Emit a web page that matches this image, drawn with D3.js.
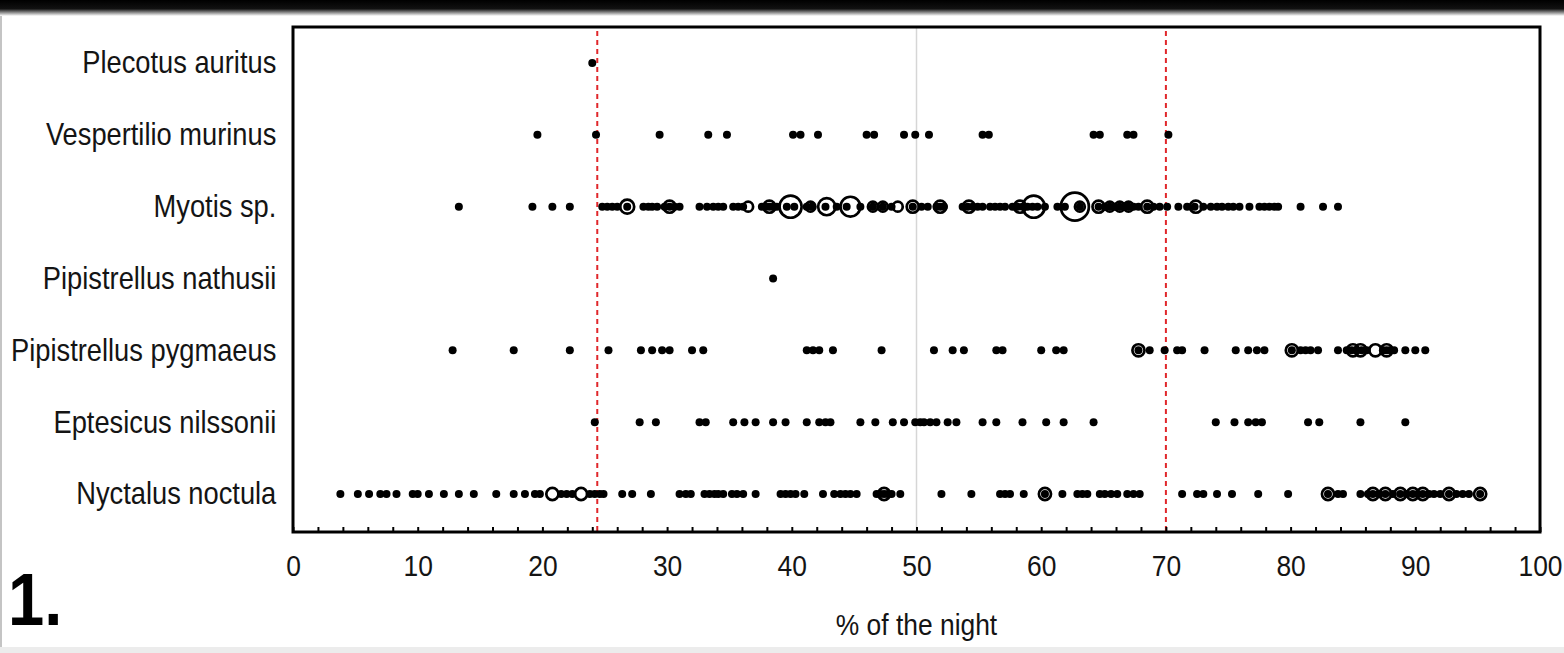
<!DOCTYPE html>
<html>
<head>
<meta charset="utf-8">
<script src="https://cdn.jsdelivr.net/npm/d3@7"></script>
<style>
  html, body { margin: 0; padding: 0; background: #fff; overflow: hidden; }
  svg { display: block; font-family: "Liberation Sans", Arial, sans-serif; }
</style>
</head>
<body>
<svg id="chart" width="1564" height="653"></svg>
<script>
const categories = ['Plecotus auritus', 'Vespertilio murinus', 'Myotis sp.', 'Pipistrellus nathusii',
  'Pipistrellus pygmaeus', 'Eptesicus nilssonii', 'Nyctalus noctula'];

const majorTicks = [0, 10, 20, 30, 40, 50, 60, 70, 80, 90, 100];
const minorTicks = d3.range(0, 101, 2);
const thresholds = [24.4, 70.0];
const midline = [50];

// single observations (small filled dots)
const plecotusDots = [24.0];
const vespertilioDots = [19.6, 24.3, 29.4, 33.3, 34.8, 40.1, 40.7, 42.1, 46.0, 46.6, 49.0, 49.9, 51.0,
  55.3, 55.8, 64.2, 64.7, 66.9, 67.4, 70.2];
const myotisDots = [13.3, 19.2, 20.8, 22.2, 24.8, 25.2, 25.6, 26.0, 26.8, 28.1, 28.5, 28.8, 29.2, 29.8,
  30.2, 30.6, 31.0, 32.6, 33.2, 33.7, 34.1, 34.5, 35.3, 35.7, 36.1, 37.6, 37.9, 38.2, 38.5, 38.8, 39.6,
  40.2, 41.2, 41.6, 42.7, 43.6, 44.4, 45.5, 46.5, 47.3, 48.0, 49.7, 50.4, 50.9, 51.6, 51.9, 52.2, 53.7,
  54.1, 54.5, 54.9, 55.3, 55.9, 56.3, 56.7, 57.1, 57.7, 58.1, 58.5, 58.9, 59.3, 59.7, 60.3, 61.3, 61.9,
  63.1, 64.6, 65.1, 65.5, 65.9, 66.3, 66.7, 67.0, 67.4, 67.8, 68.5, 69.0, 69.5, 70.1, 71.0, 71.7, 72.3,
  73.0, 73.6, 74.1, 74.5, 75.0, 75.4, 75.9, 76.7, 77.5, 77.9, 78.3, 78.7, 79.0, 80.8, 82.6, 83.8];
const nathusiiDots = [38.5];
const pygmaeusDots = [12.8, 17.7, 22.2, 25.3, 27.9, 28.8, 29.6, 30.2, 32.0, 32.9, 41.2, 41.7, 42.2, 43.3,
  47.2, 51.4, 52.9, 53.8, 56.4, 56.9, 60.0, 61.2, 61.8, 67.8, 68.7, 69.9, 70.9, 71.3, 73.1, 75.6, 76.6,
  77.3, 77.9, 80.1, 80.8, 81.2, 81.6, 82.2, 83.8, 84.5, 84.9, 85.3, 85.7, 86.1, 87.4, 87.7, 88.0, 88.3,
  89.2, 90.0, 90.8];
const eptesicusDots = [24.2, 27.8, 29.1, 32.6, 33.1, 35.3, 36.2, 37.1, 38.5, 39.5, 41.2, 42.2, 42.7, 43.1,
  45.5, 46.7, 48.1, 49.0, 49.9, 50.3, 50.6, 51.1, 51.6, 52.5, 53.2, 55.3, 56.4, 58.5, 60.4, 61.8, 64.2,
  74.0, 75.5, 76.6, 77.2, 77.7, 81.4, 82.3, 85.6, 89.2];
const nyctalusDots = [3.8, 5.2, 6.1, 7.0, 7.5, 8.3, 9.6, 10.0, 10.9, 12.1, 13.3, 14.5, 16.3, 17.7, 18.6,
  19.4, 19.8, 21.5, 21.95, 22.4, 23.8, 24.2, 24.6, 24.9, 26.4, 27.2, 28.7, 31.0, 31.5, 31.9, 33.0, 33.4,
  33.8, 34.1, 34.5, 35.2, 35.6, 36.1, 37.1, 39.1, 39.5, 39.9, 40.3, 41.0, 42.5, 43.4, 43.9, 44.3, 44.7,
  45.2, 46.8, 47.1, 47.4, 47.7, 48.0, 48.7, 52.0, 54.4, 56.7, 57.1, 57.5, 58.6, 60.3, 61.7, 62.9, 63.3,
  63.7, 64.7, 65.1, 65.6, 66.1, 66.9, 67.4, 67.9, 71.3, 72.5, 73.0, 74.1, 75.3, 77.4, 79.8, 83.0, 83.8,
  84.2, 85.6, 86.2, 86.6, 87.1, 87.6, 88.2, 88.8, 89.3, 89.8, 90.2, 90.6, 91.1, 91.5, 92.0, 92.7, 93.3,
  93.8, 94.3, 95.2];

// repeated observations [value, count] (open circles)
const myotisRings = [[26.8, 4], [30.2, 3], [36.5, 2], [38.2, 3], [39.9, 10], [41.5, 2], [42.8, 6],
  [44.7, 8], [46.5, 2], [47.3, 2], [48.5, 2], [49.7, 3], [51.9, 3], [54.2, 3], [58.3, 3], [59.4, 10],
  [62.7, 16], [63.1, 2], [64.6, 3], [65.5, 2], [66.3, 2], [67.0, 2], [68.5, 3], [72.4, 3]];
const pygmaeusRings = [[67.8, 3], [80.1, 3], [85.0, 3], [85.6, 3], [86.8, 3], [87.7, 3]];
const nyctalusRings = [[20.8, 3], [23.1, 3], [47.4, 3], [60.3, 3], [83.0, 3], [86.6, 3], [87.6, 3],
  [88.8, 3], [89.8, 3], [90.6, 3], [92.7, 3], [95.2, 3]];

const dotTable = [plecotusDots, vespertilioDots, myotisDots, nathusiiDots, pygmaeusDots, eptesicusDots, nyctalusDots]
  .flatMap((vals, i) => vals.map(v => ({ cat: categories[i], v })));
const ringTable = [[], [], myotisRings, [], pygmaeusRings, [], nyctalusRings]
  .flatMap((vals, i) => vals.map(([v, n]) => ({ cat: categories[i], v, n })))
  .sort((a, b) => b.n - a.n);

const svg = d3.select('#chart');
const plotLeft = 293, plotRight = 1540, plotTop = 27, plotBottom = 532;

const x = d3.scaleLinear().domain([0, 100]).range([plotLeft, plotRight]);
const y = d3.scalePoint().domain(categories).range([63, 494]);
const r = d3.scaleSqrt().domain([0, 16]).range([0, 14]);

// picture frame
const defs = svg.append('defs');
const shade = defs.append('linearGradient').attr('id', 'topShade')
  .attr('x1', 0).attr('y1', 0).attr('x2', 0).attr('y2', 1);
shade.append('stop').attr('offset', '0%').attr('stop-color', '#000');
shade.append('stop').attr('offset', '55%').attr('stop-color', '#111');
shade.append('stop').attr('offset', '100%').attr('stop-color', '#fff');
svg.append('rect').attr('x', 0).attr('y', 0).attr('width', 1564).attr('height', 16).attr('fill', 'url(#topShade)');
svg.append('rect').attr('x', 0).attr('y', 16).attr('width', 2).attr('height', 637).attr('fill', '#c4c4c4');
svg.append('rect').attr('x', 0).attr('y', 647).attr('width', 1564).attr('height', 6).attr('fill', '#ececec');

// reference lines
svg.selectAll('line.mid').data(midline).join('line')
  .attr('class', 'mid')
  .attr('x1', d => x(d)).attr('x2', d => x(d))
  .attr('y1', plotTop).attr('y2', plotBottom)
  .attr('stroke', '#d6d6d6').attr('stroke-width', 1.5);

svg.selectAll('line.thr').data(thresholds).join('line')
  .attr('class', 'thr')
  .attr('x1', d => x(d)).attr('x2', d => x(d))
  .attr('y1', plotTop + 4).attr('y2', plotBottom)
  .attr('stroke', '#e0262b').attr('stroke-width', 2)
  .attr('stroke-dasharray', '5,4');

// axes
const minorAxis = svg.append('g')
  .attr('transform', `translate(0,${plotBottom})`)
  .call(d3.axisBottom(x).tickValues(minorTicks).tickSize(-5).tickFormat(''));
minorAxis.select('.domain').remove();
minorAxis.selectAll('line').attr('stroke', '#000').attr('stroke-width', 2);

const labelAxis = svg.append('g')
  .attr('transform', `translate(0,${plotBottom})`)
  .call(d3.axisBottom(x).tickValues(majorTicks).tickSize(0).tickPadding(23));
labelAxis.select('.domain').remove();
labelAxis.attr('font-size', 30).attr('font-family', null);
labelAxis.selectAll('text').attr('fill', '#141414').attr('transform', 'scale(0.88,1)');

const catAxis = svg.append('g')
  .attr('transform', `translate(${plotLeft},0)`)
  .call(d3.axisLeft(y).tickSize(0).tickPadding(19));
catAxis.select('.domain').remove();
catAxis.attr('font-size', 31).attr('font-family', null);
catAxis.selectAll('text').attr('fill', '#141414').attr('transform', 'scale(0.88,1)');

// marks
svg.append('g').selectAll('circle').data(dotTable).join('circle')
  .attr('cx', d => x(d.v))
  .attr('cy', d => y(d.cat))
  .attr('r', 4)
  .attr('fill', '#000');

svg.append('g').selectAll('circle').data(ringTable).join('circle')
  .attr('cx', d => x(d.v))
  .attr('cy', d => y(d.cat))
  .attr('r', d => r(d.n))
  .attr('fill', 'none')
  .attr('stroke', '#000')
  .attr('stroke-width', 2.7);

// plot border
svg.append('rect')
  .attr('x', plotLeft).attr('y', plotTop)
  .attr('width', plotRight - plotLeft).attr('height', plotBottom - plotTop)
  .attr('fill', 'none').attr('stroke', '#000').attr('stroke-width', 3);

// titles
svg.append('text')
  .attr('transform', `translate(${(plotLeft + plotRight) / 2},635) scale(0.88,1)`)
  .attr('text-anchor', 'middle')
  .attr('font-size', 30)
  .attr('fill', '#141414')
  .text('% of the night');

svg.append('text')
  .attr('transform', 'translate(8,625) scale(0.88,1)')
  .attr('font-size', 74)
  .attr('font-weight', 'bold')
  .attr('fill', '#000')
  .text('1.');
</script>
</body>
</html>
